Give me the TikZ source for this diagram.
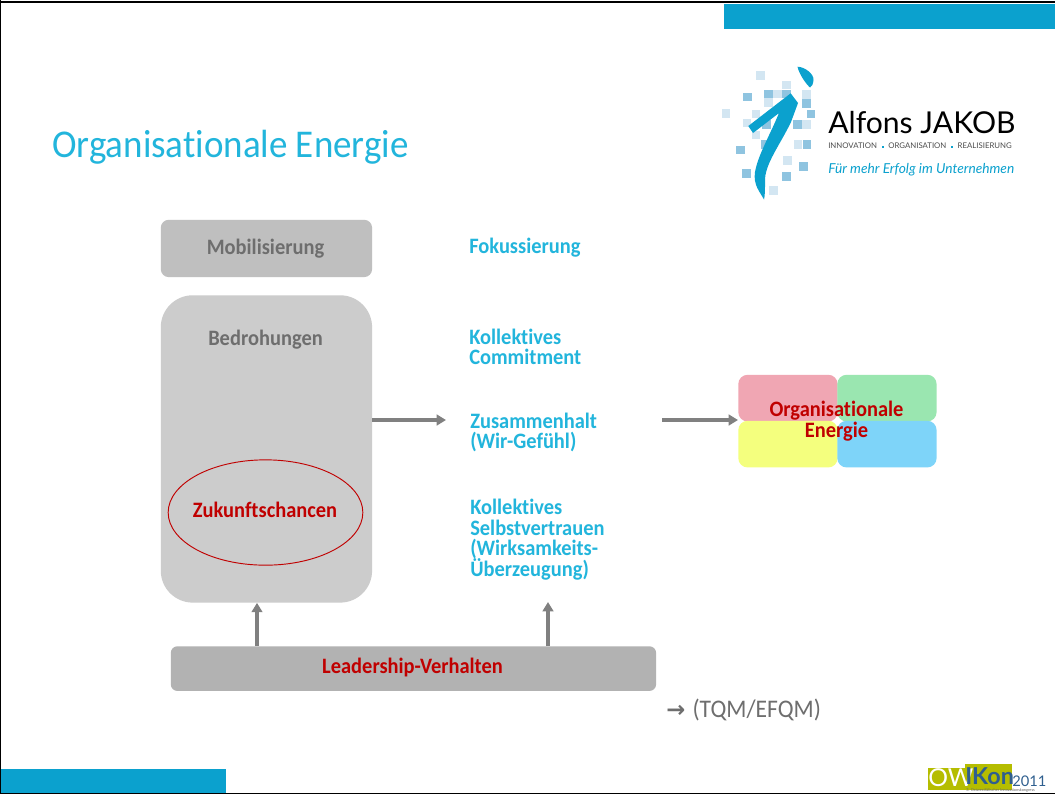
\documentclass[tikz,border=0pt]{standalone}
\usepackage{fontspec}
\setmainfont{Carlito}[Ligatures=NoCommon]
\newfontfamily\logofont{Lato}[Ligatures=NoCommon]
\newfontfamily\arrowfont{DejaVu Sans}
\usetikzlibrary{arrows.meta,shapes.geometric}
\definecolor{barblue}{HTML}{0BA1CE}
\definecolor{titleblue}{HTML}{22B5DC}
\definecolor{boxgrey}{HTML}{BFBFBF}
\definecolor{biggrey}{HTML}{CCCCCC}
\definecolor{leadgrey}{HTML}{B2B2B2}
\definecolor{txtgrey}{HTML}{6E6E6E}
\definecolor{darkred}{HTML}{C00000}
\definecolor{arrgrey}{HTML}{808080}
\definecolor{qred}{HTML}{F0A6B3}
\definecolor{qgreen}{HTML}{9AE6B0}
\definecolor{qyellow}{HTML}{F4FF7E}
\definecolor{qblue}{HTML}{7ED4F9}
\definecolor{sqlight}{HTML}{D3E6F2}
\definecolor{sqmid}{HTML}{8FC4E0}
\definecolor{owgreen}{HTML}{B5BD00}
\definecolor{owblue}{HTML}{2F5F8F}
\newcommand{\logosep}{\hspace{0.6em}{\color{barblue}\rule[0.25ex]{0.5ex}{0.5ex}}\hspace{0.6em}}
\newcommand{\narrowtxt}[1]{\scalebox{0.93}[1]{#1}}
\newcommand{\leftlines}[2]{\scalebox{0.93}[1]{\vbox{\baselineskip=#1\lineskiplimit=-20pt\halign{##\hfil\cr #2}}}}
\newcommand{\midlines}[2]{\scalebox{0.93}[1]{\vbox{\baselineskip=#1\lineskiplimit=-20pt\halign{\hfil##\hfil\cr #2}}}}
\tikzset{
  x=0.75pt,y=-0.75pt,
  lbl/.style={font=\fontsize{16.5}{15.2}\selectfont\bfseries,inner sep=0pt,anchor=west,text=titleblue},
  greylbl/.style={font=\fontsize{16.5}{15.2}\selectfont\bfseries,inner sep=0pt,text=txtgrey},
  redlbl/.style={font=\fontsize{16.5}{15.7}\selectfont\bfseries,inner sep=0pt,text=darkred},
  conn/.style={draw=arrgrey,line width=2.4pt,-{Triangle[length=7pt,width=8pt]}},
  sqa/.style={fill=sqlight,draw=none,minimum size=6.6pt,inner sep=0pt},
  sqb/.style={fill=sqmid,draw=none,minimum size=6.6pt,inner sep=0pt},
  quad/.style={draw=none,rounded corners=7pt,minimum width=74.5pt,minimum height=35pt,inner sep=0pt},
}
\begin{document}
\begin{tikzpicture}
\useasboundingbox (0,0) rectangle (1055,794);
\fill[white] (0,0) rectangle (1055,794);
% frame and bars
\fill[barblue] (724,4) rectangle (1055,29);
\fill[barblue] (0,769) rectangle (226,794);
\draw[black,line width=1.9pt] (0,2) -- (1055,2);
\draw[black,line width=0.8pt] (0.5,0) -- (0.5,794);
\draw[black,line width=0.8pt] (0,793.5) -- (1055,793.5);
% title
\node[anchor=west,inner sep=0pt,text=titleblue,font=\fontsize{29.5}{30}\selectfont] (title) at (52,147) {\scalebox{0.94}[1]{Organisationale Energie}};
% logo squares
\foreach \p/\q in {181/227,259/255,233/282,205/308,319/283,78/341,168/342,141/369,168/405,319/373,294/434,262/481,221/571}
  \node[sqa] at ({700+\p/3},{\q/3}) {};
\foreach \p/\q in {205/282,142/291,259/282,319/310,333/342,293/373,199/373,197/433,321/434,121/450,310/500,140/521,259/529}
  \node[sqb] at ({700+\p/3},{\q/3}) {};
\fill[barblue] (748.3,126) -- (790.7,93.3) -- (798,103) -- (791,122) .. controls (780,145) and (764,165) .. (765,182) .. controls (765,190) and (765,195) .. (764,199.5) .. controls (760,192) and (753,185) .. (755,172) .. controls (758,155) and (770,135) .. (779,113) -- (753,133) -- cycle;
\fill[barblue] (797.5,66.7) .. controls (805,67) and (814,74) .. (813.5,80) .. controls (813,84) and (812,87) .. (810,87.5) .. controls (806,84) and (799,74) .. (797.5,66.7) -- cycle;
\node[anchor=west,inner sep=0pt,font=\logofont\fontsize{22.6}{24}\selectfont] (alfons) at (828,123) {Alfons JAKOB};
\node[anchor=west,inner sep=0pt,text=black!70,font=\logofont\fontsize{5.85}{7}\selectfont] (innov) at (828,146) {INNOVATION\logosep ORGANISATION\logosep REALISIERUNG};
\node[anchor=west,inner sep=0pt,text=barblue,font=\logofont\itshape\fontsize{10.3}{11}\selectfont] (claim) at (828,169.5) {Für mehr Erfolg im Unternehmen};
% left boxes
\node[fill=boxgrey,rounded corners=6pt,minimum width=158.5pt,minimum height=43pt,inner sep=0pt,anchor=north west] (mob) at (160.5,219.5) {};
\node[greylbl] (mobtext) at (265.5,249) {\narrowtxt{Mobilisierung}};
\node[fill=biggrey,rounded corners=24pt,minimum width=158.5pt,minimum height=230.5pt,inner sep=0pt,anchor=north west] (bed) at (160.5,295) {};
\node[greylbl] (bedtext) at (265.5,339.5) {\narrowtxt{Bedrohungen}};
\node[draw=darkred,line width=0.7pt,ellipse,minimum width=146pt,minimum height=79pt,inner sep=0pt] (zuk) at (265.5,512.5) {};
\node[redlbl] (zuktext) at (265,510) {\narrowtxt{Zukunftschancen}};
% middle labels
\node[lbl] (fok) at (469,248) {\narrowtxt{Fokussierung}};
\node[lbl] (kol) at (469,347) {\leftlines{15pt}{Kollektives\cr Commitment\cr}};
\node[lbl] (zus) at (470,432) {\leftlines{15pt}{Zusammenhalt\cr (Wir-Gefühl)\cr}};
\node[lbl] (sel) at (470,539.5) {\leftlines{15.5pt}{Kollektives\cr Selbstvertrauen\cr (Wirksamkeits-\cr Überzeugung)\cr}};
% quadrants
\node[quad,fill=qred,anchor=north west] (q1) at (738,374.5) {};
\node[quad,fill=qgreen,anchor=north west] (q2) at (837,374.5) {};
\node[quad,fill=qyellow,anchor=north west] (q3) at (738,420.5) {};
\node[quad,fill=qblue,anchor=north west] (q4) at (837,420.5) {};
\node[redlbl] (oe) at (836.5,421) {\midlines{15.7pt}{Organisationale\cr Energie\cr}};
% leadership
\node[fill=leadgrey,rounded corners=5pt,minimum width=364pt,minimum height=33.5pt,inner sep=0pt,anchor=north west] (lead) at (170.5,646) {};
\node[redlbl] (leadtext) at (412.5,667.5) {\narrowtxt{Leadership-Verhalten}};
\node[anchor=west,inner sep=0pt,text=txtgrey,font=\fontsize{19}{20}\selectfont] (tqm) at (666,709.5) {{\arrowfont\bfseries\fontsize{17}{16}\selectfont →}\hspace{5.5pt}\scalebox{0.93}[1]{(TQM/EFQM)}};
% connectors
\coordinate (a1) at (446,420);
\coordinate (a2s) at (662,420);
\coordinate (a3) at (257,646);
\coordinate (a4) at (548,646);
\coordinate (a4e) at (548,602);
\draw[conn] (bed.east |- a1) -- (a1);
\draw[conn] (a2s) -- (a2s -| q1.west);
\draw[conn] (a3) -- (a3 |- bed.south);
\draw[conn] (a4) -- (a4e);
% owikon logo
\fill[owgreen] (927.5,768) rectangle (965,790);
\fill[owgreen] (965,764) rectangle (1012,790);
\node[anchor=west,inner sep=0pt,text depth=0pt,text=white,font=\logofont\fontsize{18.5}{20}\selectfont] (ow) at (928,778) {OW};
\node[anchor=west,inner sep=0pt,text depth=0pt,text=owblue,font=\logofont\bfseries\fontsize{17.5}{18}\selectfont] (ik) at (965,776) {IKon};
\node[anchor=west,inner sep=0pt,text=owblue,font=\logofont\fontsize{11}{12}\selectfont] (yr) at (1012,781) {2011};
\node[anchor=west,inner sep=0pt,text=black!60,font=\logofont\fontsize{2.9}{3}\selectfont] (sub) at (966,790.5) {3. Ostwestfälischer Innovationskongress};
\end{tikzpicture}
\end{document}
